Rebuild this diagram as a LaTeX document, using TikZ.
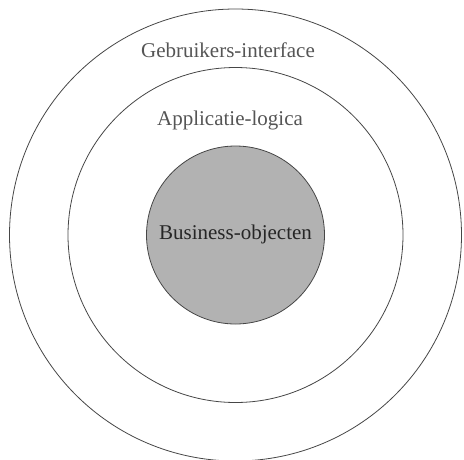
\documentclass[tikz,border=0pt]{standalone}
\usepackage{fontspec}
\setmainfont{Liberation Serif}
\usepackage{xcolor,tikz}
\definecolor{ringline}{RGB}{70,70,70}
\definecolor{corefill}{RGB}{178,178,178}
\definecolor{labelgray}{RGB}{85,85,85}

\tikzset{
  ring/.style={draw=ringline,line width=0.8pt},
  ringlabel/.style={text=labelgray,font=\fontsize{21}{24}\selectfont},
  corelabel/.style={text=black!85,font=\fontsize{21}{24}\selectfont}
}

\begin{document}
\begin{tikzpicture}[x=1pt,y=-1pt]
 \useasboundingbox (0,0) rectangle (464,459);
 \coordinate (mid) at (235.5,235);
 \draw[ring] (mid) circle (226);
 \draw[ring] (mid) circle (167.5);
 \filldraw[ring,fill=corefill] (mid) circle (89);
 \node[ringlabel] (gui) at (228,50) {Gebruikers-interface};
 \node[ringlabel] (logic) at (230,120) {Applicatie-logica};
 \node[corelabel] (core) at (235.5,234) {Business-objecten};
\end{tikzpicture}
\end{document}
